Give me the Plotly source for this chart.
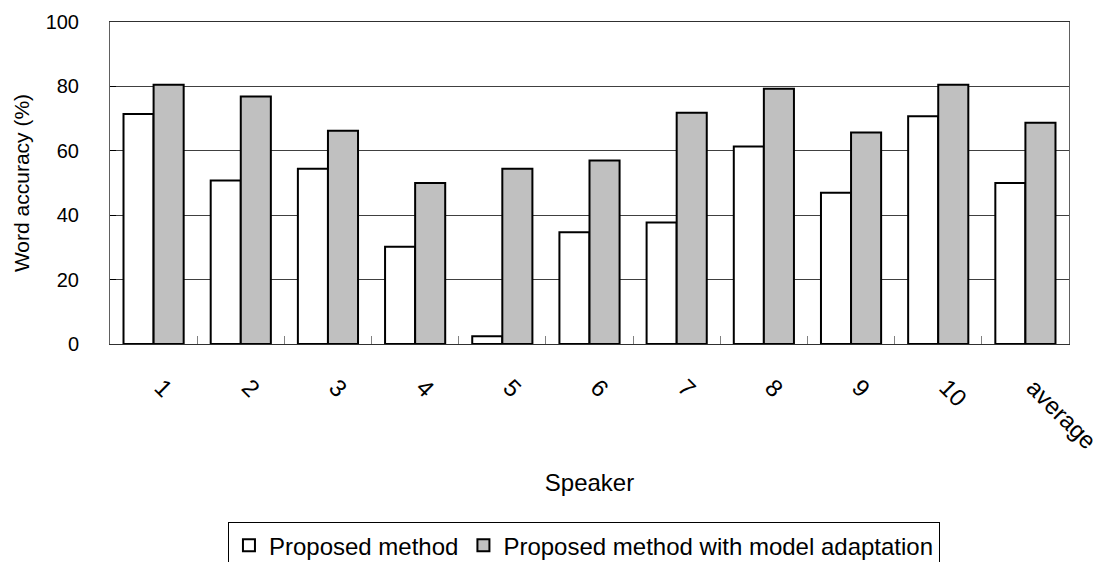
import plotly.graph_objects as go

# Word accuracy per speaker (%)
speakers = ["1", "2", "3", "4", "5", "6", "7", "8", "9", "10", "average"]
proposed = [71.4, 50.8, 54.4, 30.2, 2.4, 34.7, 37.7, 61.3, 47.0, 70.7, 50.0]
proposed_adapted = [80.5, 76.9, 66.2, 50.0, 54.4, 57.0, 71.8, 79.3, 65.7, 80.5, 68.7]
y_ticks = [0, 20, 40, 60, 80, 100]

FONT = "Liberation Sans, Arial, sans-serif"

fig = go.Figure()
fig.add_trace(go.Bar(
    x=speakers, y=proposed, name="Proposed method",
    marker=dict(color="#FFFFFF", line=dict(color="#000000", width=2)),
))
fig.add_trace(go.Bar(
    x=speakers, y=proposed_adapted, name="Proposed method with model adaptation",
    marker=dict(color="#C0C0C0", line=dict(color="#000000", width=2)),
))

fig.update_layout(
    width=1103, height=562,
    margin=dict(l=110, r=34, t=22, b=218, autoexpand=False),
    paper_bgcolor="white", plot_bgcolor="white",
    font=dict(family=FONT, size=20, color="#000000"),
    barmode="group", bargap=0.31, bargroupgap=0,
    showlegend=True,
    legend=dict(
        orientation="h", x=0.123, xanchor="left", y=-0.553, yanchor="top",
        bordercolor="#000000", borderwidth=1, bgcolor="white",
        font=dict(family=FONT, size=24), itemwidth=30,
        traceorder="normal",
    ),
)

fig.update_xaxes(
    type="category", automargin=False,
    showline=True, linecolor="#303030", linewidth=1, mirror=True,
    ticks="inside", tickson="boundaries", ticklen=8, tickcolor="#808080", tickwidth=1,
    tickangle=45, ticklabelstandoff=19, ticklabelshift=8,
    tickfont=dict(family=FONT, size=24),
    showgrid=False,
    title=dict(text="Speaker", font=dict(family=FONT, size=24), standoff=21),
)
fig.update_yaxes(
    range=[0, 100], tickvals=y_ticks, automargin=False,
    showline=True, linecolor="#606060", linewidth=1, mirror=True,
    ticks="inside", ticklen=6, tickcolor="#000000",
    ticklabelstandoff=26,
    tickfont=dict(family=FONT, size=20),
    showgrid=True, gridcolor="#404040", gridwidth=1, zeroline=False,
    title=dict(text="Word accuracy (%)", font=dict(family=FONT, size=21), standoff=10),
)

fig.write_html("out.html")
